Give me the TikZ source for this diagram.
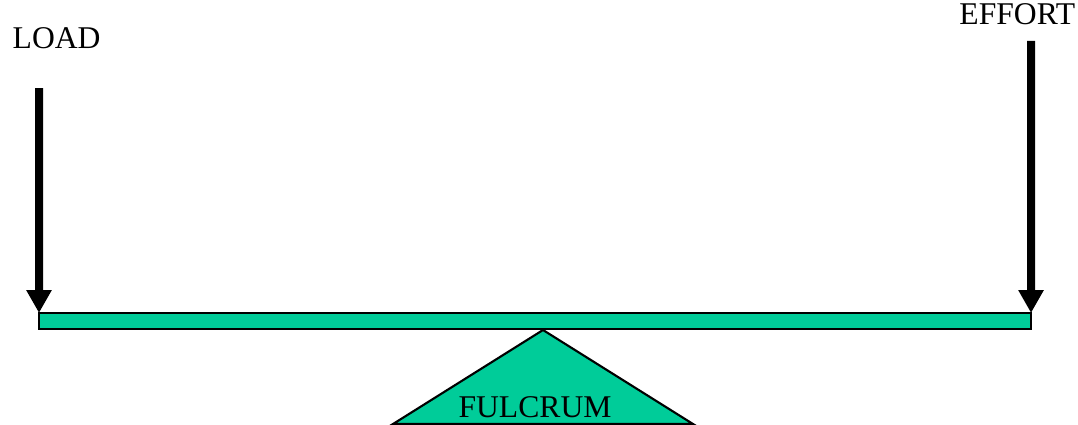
\documentclass[tikz,border=0pt]{standalone}
\usepackage{fontspec}
\setmainfont{Liberation Serif}
\usetikzlibrary{positioning,arrows.meta}
\definecolor{leverteal}{RGB}{0,204,153}

\begin{document}
\begin{tikzpicture}[>={Triangle[width=0.24cm,length=0.23cm]},
  beam/.style={rectangle, draw, fill=leverteal, line width=0.6pt, minimum width=9.92cm, minimum height=0.16cm, inner sep=0pt, outer sep=0pt},
  force/.style={->, line width=0.08cm},
  label/.style={inner sep=0pt},
  font=\fontsize{9}{11}\selectfont]

  \useasboundingbox (0,0) rectangle (10.78,4.24);

  % Fulcrum
  \begin{scope}
    \clip (0,0) rectangle (10.78,4.24);
    \draw[fill=leverteal, line width=0.6pt] (5.43,0.94) -- (6.93,0) -- (3.93,0) -- cycle;
  \end{scope}

  % Nodes
  \node[beam] (Beam) at (5.35,1.03) {};
  \node[label, anchor=base west] (Load) at (0.12,3.75) {LOAD};
  \node[label, anchor=base east] (Effort) at (10.76,3.99) {EFFORT};
  \node[label, anchor=base] (Fulcrum) at (5.35,0.07) {FULCRUM};

  \coordinate (LoadTop) at (0.39,3.36);
  \coordinate (EffortTop) at (10.31,3.83);

  % Paths / Edges
  \draw[force] (LoadTop) -- (Beam.north west);
  \draw[force] (EffortTop) -- (Beam.north east);

\end{tikzpicture}
\end{document}
